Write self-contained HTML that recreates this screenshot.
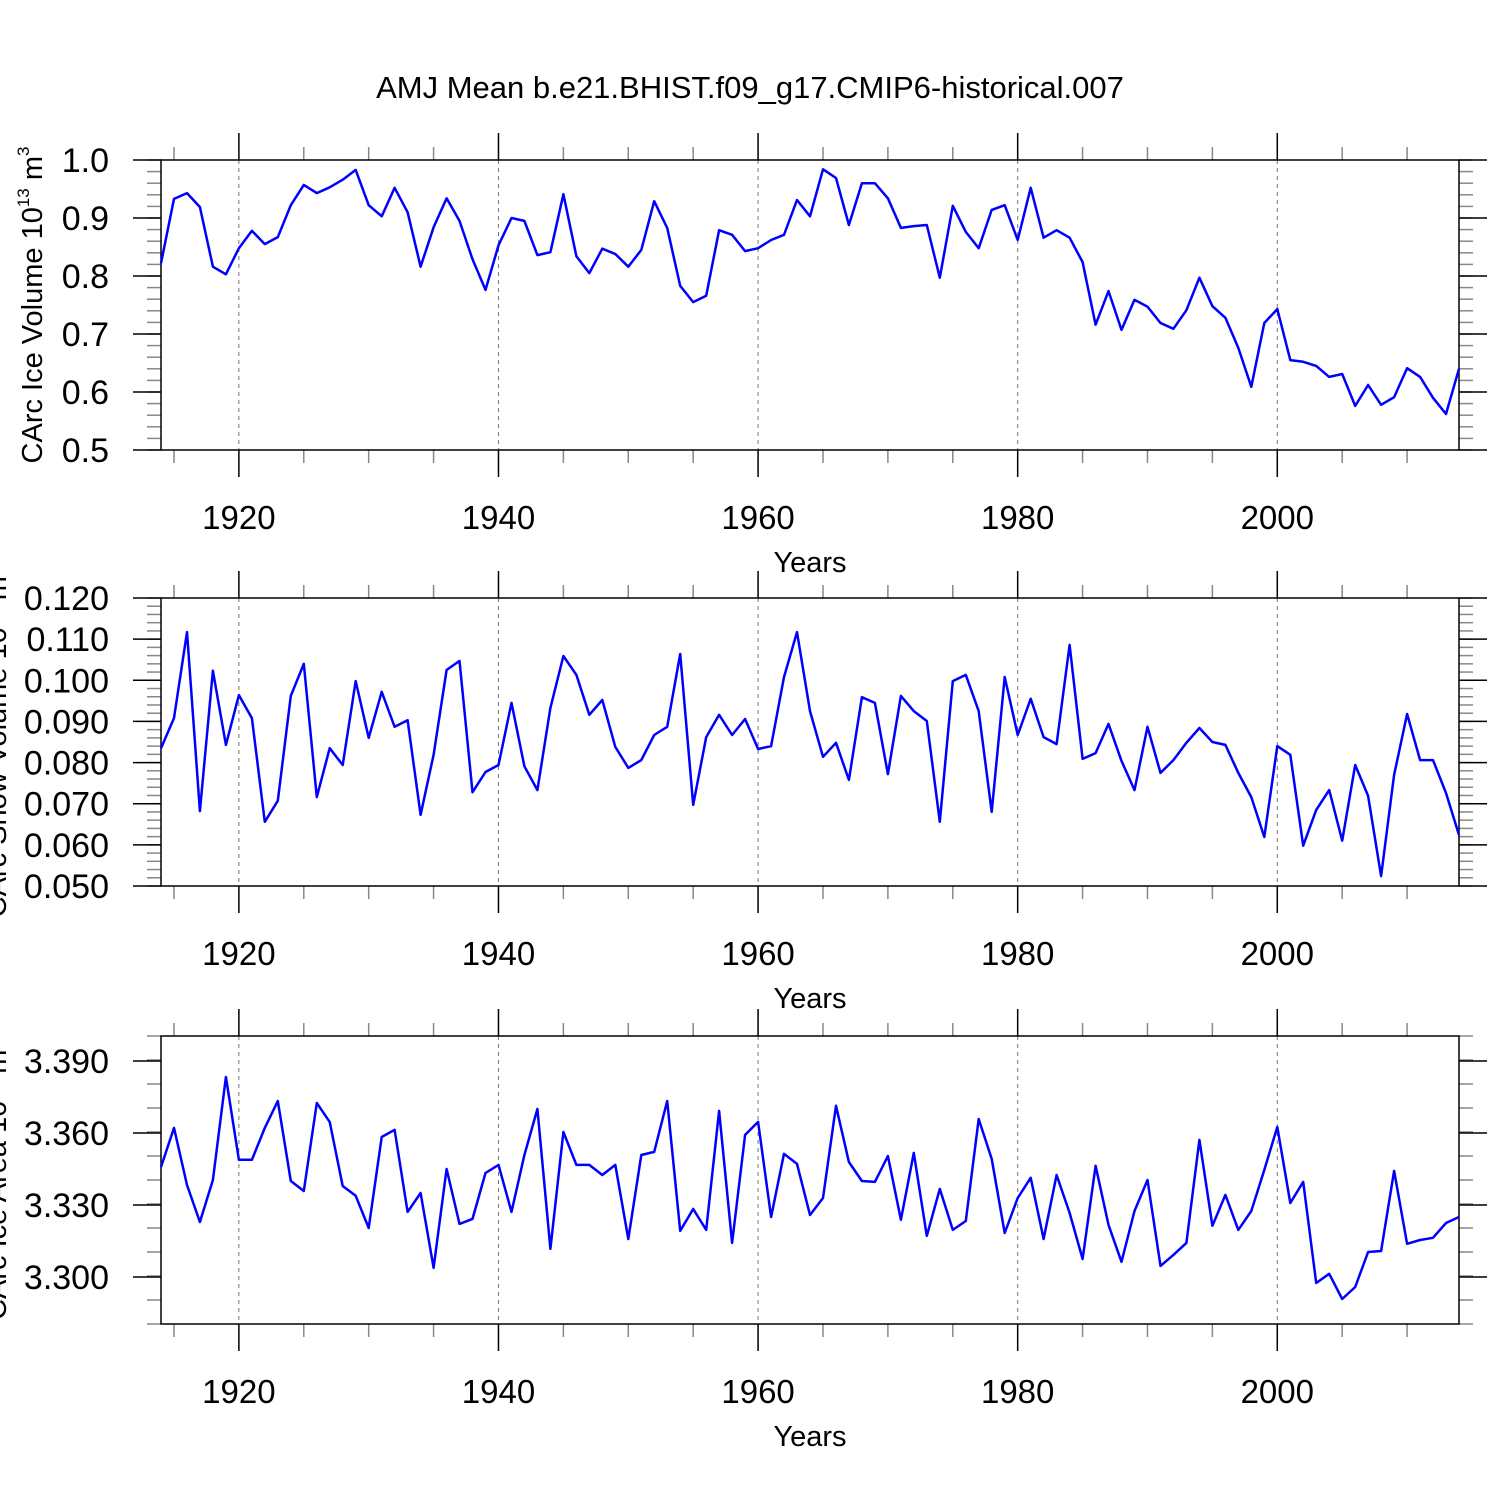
<!DOCTYPE html>
<html><head><meta charset="utf-8"><style>
body{margin:0;background:#fff}
svg{display:block}
text{font-family:"Liberation Sans",Arial,sans-serif;fill:#000}
</style></head><body>
<svg id="chart" width="1500" height="1500" xmlns="http://www.w3.org/2000/svg">
<rect width="1500" height="1500" fill="#fff"/>
<text x="750" y="98" font-size="31" text-anchor="middle">AMJ Mean b.e21.BHIST.f09_g17.CMIP6-historical.007</text>
</svg>
<script>
const years = [];
for (let y = 1914; y <= 2014; y++) years.push(y);
const iceVolume = [0.822,0.933,0.943,0.919,0.816,0.803,0.848,0.878,0.855,0.867,0.922,0.957,0.943,0.953,0.966,0.983,0.922,0.903,0.952,0.910,0.816,0.884,0.934,0.895,0.829,0.776,0.853,0.900,0.895,0.836,0.841,0.941,0.834,0.805,0.847,0.838,0.816,0.845,0.929,0.883,0.783,0.755,0.766,0.879,0.871,0.843,0.848,0.862,0.871,0.931,0.903,0.984,0.969,0.888,0.960,0.960,0.934,0.883,0.886,0.888,0.797,0.921,0.876,0.848,0.914,0.922,0.862,0.952,0.866,0.879,0.866,0.824,0.716,0.774,0.707,0.759,0.747,0.719,0.709,0.741,0.797,0.748,0.728,0.676,0.609,0.719,0.743,0.655,0.652,0.645,0.626,0.631,0.576,0.612,0.578,0.591,0.641,0.626,0.590,0.562,0.640];
const snowVolume = [0.0835,0.0908,0.1117,0.0682,0.1023,0.0843,0.0964,0.0908,0.0656,0.0707,0.0962,0.1040,0.0716,0.0835,0.0794,0.0998,0.0860,0.0972,0.0887,0.0903,0.0673,0.0819,0.1025,0.1047,0.0728,0.0777,0.0794,0.0945,0.0791,0.0733,0.0933,0.1059,0.1013,0.0916,0.0952,0.0838,0.0787,0.0806,0.0867,0.0887,0.1064,0.0697,0.0862,0.0916,0.0867,0.0906,0.0833,0.0840,0.1008,0.1117,0.0925,0.0814,0.0848,0.0758,0.0959,0.0945,0.0772,0.0962,0.0925,0.0901,0.0656,0.0998,0.1013,0.0925,0.0680,0.1008,0.0867,0.0955,0.0862,0.0845,0.1086,0.0809,0.0823,0.0894,0.0804,0.0733,0.0887,0.0775,0.0806,0.0848,0.0884,0.0850,0.0843,0.0775,0.0716,0.0619,0.0840,0.0819,0.0598,0.0685,0.0733,0.0610,0.0794,0.0719,0.0524,0.0770,0.0918,0.0806,0.0806,0.0726,0.0624];
const iceArea = [3.3458,3.3621,3.3383,3.3229,3.3404,3.3833,3.3488,3.3488,3.3621,3.3733,3.3400,3.3358,3.3725,3.3646,3.3379,3.3338,3.3204,3.3583,3.3613,3.3271,3.3350,3.3038,3.3450,3.3221,3.3242,3.3433,3.3467,3.3271,3.3508,3.3700,3.3117,3.3604,3.3467,3.3467,3.3425,3.3467,3.3158,3.3508,3.3521,3.3733,3.3192,3.3283,3.3196,3.3692,3.3142,3.3592,3.3646,3.3250,3.3513,3.3471,3.3258,3.3329,3.3713,3.3479,3.3400,3.3396,3.3504,3.3238,3.3517,3.3171,3.3367,3.3196,3.3233,3.3658,3.3492,3.3183,3.3329,3.3413,3.3158,3.3425,3.3267,3.3075,3.3463,3.3217,3.3063,3.3275,3.3404,3.3046,3.3092,3.3142,3.3571,3.3213,3.3342,3.3196,3.3275,3.3446,3.3625,3.3308,3.3396,3.2975,3.3013,3.2908,3.2958,3.3104,3.3108,3.3442,3.3138,3.3154,3.3163,3.3225,3.3250];
const xTickLabels = [1920,1940,1960,1980,2000];
const yTicks1 = ["0.5","0.6","0.7","0.8","0.9","1.0"];
const yTicks2 = ["0.050","0.060","0.070","0.080","0.090","0.100","0.110","0.120"];
const yTicks3 = ["3.300","3.330","3.360","3.390"];

const NS = "http://www.w3.org/2000/svg";
const svg = document.getElementById('chart');
function el(tag, attrs, parent) {
  const e = document.createElementNS(NS, tag);
  for (const k in attrs) e.setAttribute(k, attrs[k]);
  (parent || svg).appendChild(e);
  return e;
}
const L = 161, R = 1459;
const xs = y => L + (y - 1914) / 100 * (R - L);

function panel(idx, top, bot, ymin, ymax, series, ticks, minorStep, label, sup) {
  const g = el('g', {});
  
  
  const ys = v => bot - (v - ymin) / (ymax - ymin) * (bot - top);
  xTickLabels.forEach(y => {
    const gl = el('line', {x1: xs(y), x2: xs(y), y1: top, y2: bot, stroke: '#777', 'stroke-width': 1, 'stroke-dasharray': '4,4'}, g);
    
    
  });
  for (let y = 1915; y <= 2010; y += 5) {
    const major = y % 20 === 0;
    const len = major ? 27 : 13;
    const col = major ? '#000' : '#888';
    el('line', {x1: xs(y), x2: xs(y), y1: top - len, y2: top, stroke: col, 'stroke-width': 1.5}, g);
    el('line', {x1: xs(y), x2: xs(y), y1: bot, y2: bot + len, stroke: col, 'stroke-width': 1.5}, g);
  }
  xTickLabels.forEach(y => {
    const t = el('text', {x: xs(y), y: bot + 79, 'font-size': 33, 'text-anchor': 'middle'}, g);
    t.textContent = y;
    
    
  });
  const xt = el('text', {x: 810, y: bot + 122, 'font-size': 29, 'text-anchor': 'middle'}, g);
  xt.textContent = 'Years';
  
  
  const n = Math.round((ymax - ymin) / minorStep);
  for (let i = 0; i <= n; i++) {
    const v = ymin + i * minorStep;
    const yy = ys(v);
    if (yy < top - 0.5 || yy > bot + 0.5) continue;
    el('line', {x1: L - 14, x2: L, y1: yy, y2: yy, stroke: '#888', 'stroke-width': 1.5}, g);
    el('line', {x1: R, x2: R + 14, y1: yy, y2: yy, stroke: '#888', 'stroke-width': 1.5}, g);
  }
  ticks.forEach(s => {
    const yy = ys(parseFloat(s));
    el('line', {x1: L - 28, x2: L, y1: yy, y2: yy, stroke: '#000', 'stroke-width': 1.5}, g);
    el('line', {x1: R, x2: R + 28, y1: yy, y2: yy, stroke: '#000', 'stroke-width': 1.5}, g);
    const t = el('text', {x: 109, y: yy + 12, 'font-size': 34, 'text-anchor': 'end'}, g);
    t.textContent = s;
    
    
  });
  const fr = el('rect', {x: L, y: top, width: R - L, height: bot - top, fill: 'none', stroke: '#000', 'stroke-width': 1.5}, g);
  
  
  const pts = series.map((v, i) => xs(years[i]).toFixed(1) + ',' + ys(v).toFixed(1)).join(' ');
  const pl = el('polyline', {points: pts, fill: 'none', stroke: '#0000ff', 'stroke-width': 2.5, 'stroke-linejoin': 'round'}, g);
  
  
  const cx = idx === 1 ? 42 : 6;
  const cy = (top + bot) / 2;
  const yt = el('text', {x: cx, y: cy, 'font-size': 29, 'text-anchor': 'middle', transform: 'rotate(-90 ' + cx + ' ' + cy + ')'}, g);
  
  
  yt.appendChild(document.createTextNode(label + ' 10'));
  const s1 = el('tspan', {'font-size': 17, dy: -13}, yt); s1.textContent = '13';
  const s2 = el('tspan', {dy: 13}, yt); s2.textContent = ' m';
  const s3 = el('tspan', {'font-size': 17, dy: -13}, yt); s3.textContent = sup;
}
panel(1, 160, 450, 0.5, 1.0, iceVolume, yTicks1, 0.02, 'CArc Ice Volume', '3');
panel(2, 598, 886, 0.050, 0.120, snowVolume, yTicks2, 0.002, 'CArc Snow Volume', '3');
panel(3, 1036, 1324, 3.2804, 3.4004, iceArea, yTicks3, 0.01, 'CArc Ice Area', '2');
</script>
</body></html>
